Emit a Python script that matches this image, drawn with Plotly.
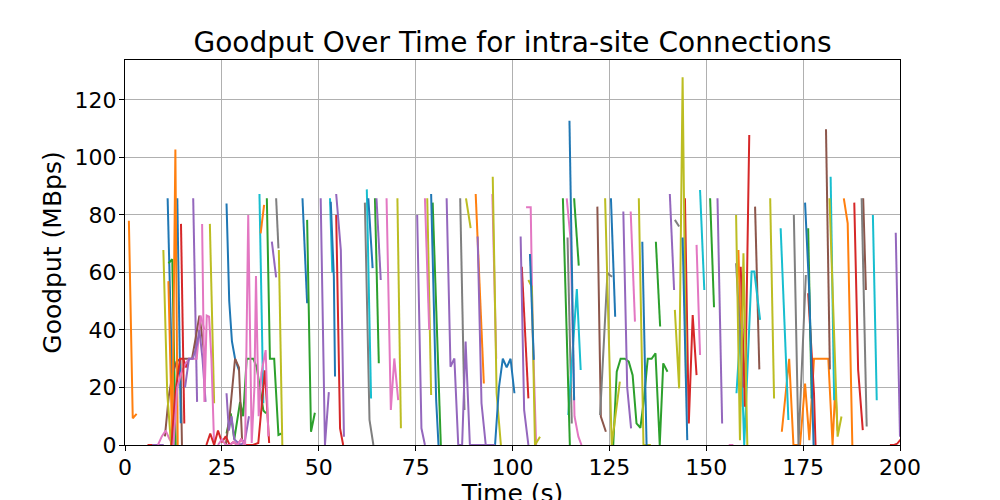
#!/usr/bin/env python3
"""
Goodput over time for intra-site connections.
- One short line per connection, coloured per connection id like matplotlib's tab10 cycle.
- Writes an interactive page to out.html.
"""
import plotly.graph_objs as go

# Connection samples per colour slot: (time in s, goodput in MBps)
CONN_BLUE = [
    ([11.0, 12.0, 12.6], [85.8, 36, 0]),
    ([13.5, 14.4], [85.8, 7.6]),
    ([26.2, 26.9, 27.6, 28.4, 29.4], [84, 50, 36, 30, 26]),
    ([45.8, 47.0], [85.8, 49.3]),
    ([53.1, 53.9, 54.2], [84.6, 58.5, 23.8]),
    ([62.8, 63.9], [85.8, 61.5]),
    ([79.0, 80.3, 80.9], [87.3, 15.6, 0]),
    ([95.5, 96.5, 97.5, 98.5, 99.5, 100.5], [0, 20, 30, 27, 30, 18]),
    ([104.5, 105.5], [66.4, 29.6]),
    ([114.7, 115.9], [112.8, 15.6]),
    ([125.4, 126.5], [85.8, 44.6]),
    ([133.5, 134.6], [70.7, 0]),
    ([143.9, 145.1], [72.2, 1.7]),
    ([175.5, 176.6, 177.7], [84.3, 52.8, 0]),
]
CONN_ORANGE = [
    ([1.0, 2.0, 3.0], [78, 9.3, 10.8]),
    ([11.2, 12.2, 13.0, 13.6], [57, 0, 102.8, 0]),
    ([35.0, 35.9], [73.6, 83.5]),
    ([90.5, 92.6], [87.3, 21.4]),
    ([158.3, 159.4], [67.8, 13.3]),
    ([169.5, 171.4, 172.5, 173.5, 174.2, 175.5, 176.6, 177.8, 178.8, 179.8,
      180.8, 181.5, 182.6, 183.3, 183.9],
     [4.6, 30, 0, 0, 0, 21.4, 1.7, 30, 30, 30, 30, 30, 0, 20, 5]),
    ([185.5, 186.5, 187.7], [85.8, 77.1, 0]),
]
CONN_GREEN = [
    ([11.2, 12.2, 13.1], [63.2, 64.6, 0]),
    ([26.2, 27.3, 28.2, 29.7, 30.5, 31.4, 32.3, 33.1, 34.0, 35.7, 36.4],
     [4, 11, 2, 15, 10, 30, 30, 30, 27, 12, 11]),
    ([36.6, 37.4, 38.5, 39.6, 40.4], [85.8, 30, 30, 3.5, 4]),
    ([47.0, 48.0, 49.0], [78.3, 4.6, 11.2]),
    ([64.5, 65.5], [85.8, 28.4]),
    ([79.4, 81.5], [84.3, 0]),
    ([113.0, 114.8], [85.8, 0]),
    ([115.9, 117.1], [85.8, 62.4]),
    ([126.0, 126.9, 127.9, 129.0, 130.0, 131.0, 132.0, 133.0, 133.9, 134.9,
      135.9, 136.9, 138.0, 138.9, 140.0],
     [0, 25.5, 30, 30, 29, 24.3, 7.5, 6, 15.6, 30, 30, 31.9, 0, 28.4, 25.5]),
    ([137.0, 138.1], [70.7, 41.2]),
    ([151.0, 152.0], [85.8, 47.9]),
    ([176.3, 177.2], [75.4, 16.2]),
]
CONN_RED = [
    ([5.8, 7.0, 8.0, 9.0], [0, 0, 0, 0]),
    ([12.0, 13.0, 14.2, 15.0, 15.8, 16.5], [0, 18, 30, 30, 27, 30]),
    ([14.45, 15.3], [76.9, 7.5]),
    ([21.0, 22.0, 23.0, 24.0, 25.0, 26.0, 27.0, 28.0, 29.0, 30.0, 31.0, 32.0,
      33.0, 34.4, 36.1, 37.2],
     [0, 4, 0, 5, 1, 3, 0, 1, 0, 2, 0, 0, 0, 0.7, 26, 0.7]),
    ([54.5, 55.5, 56.3], [80, 5.8, 0]),
    ([102.4, 104.1], [62, 16.2]),
    ([144.5, 145.5, 146.5, 147.5], [85.8, 7.5, 45.2, 24.3]),
    ([158.9, 160.0, 161.1], [62, 13.3, 107.8]),
    ([176.3, 177.8, 178.2], [52.8, 18, 0]),
    ([188.2, 189.2, 190.4], [84.3, 26.1, 5.2]),
    ([197.4, 198.5, 199.3, 200.4], [0, 0, 0.5, 2.3]),
]
CONN_PURPLE = [
    ([7.0, 8.0, 9.0, 10.0], [0, 0, 0, 0]),
    ([17.6, 18.6], [85.8, 15]),
    ([15.5, 16.5, 17.5, 18.6, 19.2, 20.0, 20.8], [20, 30, 30, 35, 40, 30, 15]),
    ([26.2, 26.8, 27.5, 28.2, 29.0, 30.0, 31.0, 32.0], [18, 5, 10, 2, 1, 0, 2, 10]),
    ([37.9, 39.0], [70.7, 58.3]),
    ([50.5, 51.6, 52.6], [85.8, 0, 18.4]),
    ([54.5, 55.7, 56.5], [87.3, 67.8, 2.9]),
    ([64.9, 66.0], [85.8, 57.4]),
    ([75.4, 76.5, 77.4], [80, 5.8, 0]),
    ([83.0, 84.0, 85.0, 86.0, 87.0, 87.9, 89.0, 90.0, 91.0, 92.0, 93.0, 94.0, 95.5],
     [85.8, 27.2, 30.1, 0, 0, 36, 0, 0, 0, 0, 0, 0, 0]),
    ([91.0, 92.0, 93.1], [72.5, 14.5, 0]),
    ([102.1, 103.0, 104.1], [72.5, 12.2, 0]),
    ([128.6, 129.6, 130.6], [81.2, 20, 5.8]),
    ([140.6, 141.7], [87.3, 53.9]),
    ([152.9, 154.1], [85.8, 7.5]),
    ([198.9, 200.0], [73.8, 2.9]),
]
CONN_BROWN = [
    ([10.3, 11.3, 12.3, 13.3, 14.3, 14.7], [3, 17, 25, 29, 30, 0]),
    ([15.0, 16.3, 17.3, 18.3, 19.2, 19.8, 20.6], [30, 30, 30, 37.7, 45, 39, 29.6]),
    ([26.0, 27.0, 28.4, 29.4, 30.2], [0, 10, 30, 27, 2]),
    ([121.9, 122.8, 124.1], [82.9, 9.9, 4.6]),
    ([162.6, 163.7], [82.9, 26.3]),
    ([180.9, 181.9], [109.8, 26.3]),
    ([190.5, 191.2], [85.8, 53.9]),
]
CONN_PINK = [
    ([8.5, 9.5, 10.5, 11.5, 12.5], [0, 3, 5, 2, 0]),
    ([12.5, 13.5, 14.5, 15.5, 16.5, 17.5, 18.5, 19.5, 20.5], [0, 20, 25, 28, 30, 30, 30, 45, 40]),
    ([19.9, 20.5, 21.1, 21.7, 22.3, 23.0], [76.9, 15, 45, 44.6, 30, 0]),
    ([24.0, 25.0, 26.0, 27.0, 28.0, 29.0, 30.0, 31.0, 31.8, 32.7, 33.4, 33.8,
      34.5, 35.2, 36.3, 37.0],
     [0, 2, 0, 0, 1, 0, 2, 0, 80, 0.7, 20, 58.8, 10, 25, 33, 3]),
    ([67.5, 68.6, 69.5, 70.5], [85.8, 12.2, 30.1, 15.6]),
    ([77.4, 78.5], [85.8, 40]),
    ([94.8, 95.8], [87.3, 30]),
    ([103.5, 104.7, 105.2, 106.1], [82.7, 82.7, 40, 0]),
    ([114.0, 115.0, 116.0, 117.0, 117.8], [85.8, 71.3, 10, 2.9, 0]),
    ([130.5, 131.6], [81.2, 42.9]),
    ([147.5, 148.4], [69.6, 31.3]),
    ([155.8, 157.0], [0, 0]),
]
CONN_GRAY = [
    ([39.0, 39.6], [85.8, 68.4]),
    ([61.9, 63.1, 64.1], [84.3, 8.7, 0]),
    ([86.5, 87.6], [85.8, 12.2]),
    ([114.2, 115.3], [72.2, 7.5]),
    ([122.6, 124.5, 125.7], [10.4, 59.7, 58.5]),
    ([141.9, 143.0], [78.3, 76]),
    ([157.7, 158.7, 159.5], [63.2, 40, 20]),
    ([172.6, 173.8, 175.7], [80, 0, 59.1]),
    ([190.1, 191.4], [85.8, 6.4]),
]
CONN_OLIVE = [
    ([9.9, 10.9, 11.9], [67.8, 18, 0]),
    ([21.9, 23.0], [76.9, 14.5]),
    ([39.7, 40.1, 40.6], [67.8, 30, 0]),
    ([70.3, 71.2], [85.8, 5.8]),
    ([78.0, 79.0], [85.8, 17.4]),
    ([88.0, 89.2], [85.8, 75.4]),
    ([94.9, 95.9, 97.0], [93.3, 18, 0]),
    ([104.1, 105.0, 105.8, 107.1], [57.4, 55, 0, 2.9]),
    ([123.9, 125.6, 127.7], [85.8, 0, 22]),
    ([132.6, 133.8, 135.7], [85.8, 0, 0]),
    ([141.9, 143.0, 143.9, 144.8], [47, 19.7, 127.9, 20]),
    ([157.7, 158.7, 159.6, 160.6], [80, 1.7, 66.7, 0]),
    ([166.5, 167.5], [85.8, 16.2]),
    ([181.8, 183.0, 183.9, 184.9], [85.8, 40, 2.9, 9.9]),
]
CONN_CYAN = [
    ([34.7, 35.7], [87.3, 14.5]),
    ([52.9, 53.5], [85.8, 60]),
    ([62.4, 63.5], [88.9, 16.2]),
    ([114.4, 116.6, 117.6], [10.4, 54.2, 26.1]),
    ([148.4, 149.5], [88.7, 53.9]),
    ([157.8, 158.8, 159.8, 160.8, 161.7, 162.4, 163.9], [18, 40, 0, 30, 60.3, 60.3, 43.5]),
    ([169.2, 171.2], [75.4, 8.7]),
    ([182.1, 183.0], [93.3, 15.6]),
    ([193.0, 194.0], [80, 15.6]),
]

# matplotlib tab10 cycle
TAB10 = ['#1f77b4', '#ff7f0e', '#2ca02c', '#d62728', '#9467bd',
         '#8c564b', '#e377c2', '#7f7f7f', '#bcbd22', '#17becf']
GROUPS = [CONN_BLUE, CONN_ORANGE, CONN_GREEN, CONN_RED, CONN_PURPLE,
          CONN_BROWN, CONN_PINK, CONN_GRAY, CONN_OLIVE, CONN_CYAN]

FONT = 'DejaVu Sans'


def build_figure():
    fig = go.Figure()
    # draw connections interleaved by colour, like a per-connection plot loop
    longest = max(len(g) for g in GROUPS)
    for i in range(longest):
        for slot, group in enumerate(GROUPS):
            if i >= len(group):
                continue
            times, goodput = group[i]
            fig.add_trace(go.Scatter(
                x=times, y=goodput, mode='lines',
                line=dict(color=TAB10[slot], width=2),
                showlegend=False, hoverinfo='x+y'
            ))

    axis_common = dict(
        showgrid=True, gridcolor='#b0b0b0', gridwidth=1,
        showline=True, mirror=True, linecolor='black', linewidth=1,
        ticks='outside', ticklen=5, tickwidth=1, tickcolor='black',
        tickfont=dict(size=22, color='black', family=FONT),
        zeroline=False, automargin=False,
    )
    # the page body adds an 8px offset, so margins are shifted to compensate
    fig.update_layout(
        width=1000, height=500,
        margin=dict(l=117, r=108, t=52, b=63),
        paper_bgcolor='white', plot_bgcolor='white',
        font=dict(family=FONT, color='black'),
        title=dict(
            text='Goodput Over Time for intra-site Connections',
            x=0.5, xanchor='center', xref='paper',
            y=0.932, yanchor='middle', yref='container',
            font=dict(size=28, family=FONT, color='black'),
        ),
        xaxis=dict(
            range=[0, 200], tickvals=list(range(0, 201, 25)),
            ticklabelstandoff=-2,
            title=dict(text='Time (s)', font=dict(size=25, family=FONT), standoff=16),
            **axis_common
        ),
        yaxis=dict(
            range=[0, 133.9], tickvals=list(range(0, 121, 20)),
            ticklabelstandoff=-2,
            title=dict(text='Goodput (MBps)', font=dict(size=25, family=FONT), standoff=5),
            **axis_common
        ),
    )
    return fig


def main():
    fig = build_figure()
    fig.write_html("out.html")


if __name__ == '__main__':
    main()
